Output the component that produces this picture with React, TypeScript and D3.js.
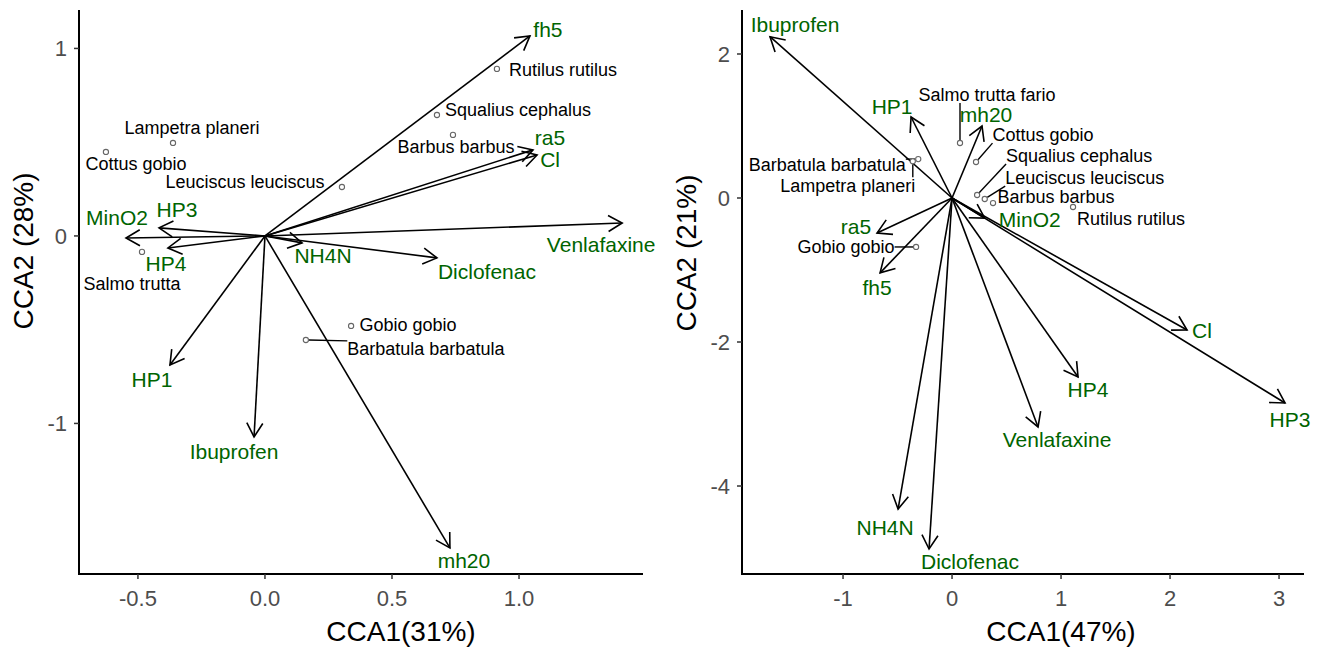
import React from "react";
import * as d3 from "d3";

// ---------- Left CCA: environmental vectors ----------
const leftVars = ["fh5", "ra5", "Cl", "Venlafaxine", "Diclofenac", "NH4N", "mh20", "Ibuprofen", "HP1", "HP4", "HP3", "MinO2"];
const leftVarCCA1 = [1.043, 1.055, 1.071, 1.406, 0.677, 0.146, 0.728, -0.043, -0.374, -0.382, -0.417, -0.547];
const leftVarCCA2 = [1.067, 0.459, 0.432, 0.069, -0.117, -0.037, -1.664, -1.072, -0.688, -0.064, 0.043, -0.011];

// ---------- Left CCA: species scores ----------
const leftSpecies = ["Rutilus rutilus", "Squalius cephalus", "Barbus barbus", "Leuciscus leuciscus", "Lampetra planeri", "Cottus gobio", "Salmo trutta", "Gobio gobio", "Barbatula barbatula"];
const leftSpCCA1 = [0.913, 0.677, 0.740, 0.303, -0.362, -0.626, -0.484, 0.339, 0.161];
const leftSpCCA2 = [0.891, 0.645, 0.539, 0.261, 0.496, 0.448, -0.085, -0.480, -0.555];

const leftXTicks = [-0.5, 0, 0.5, 1.0];
const leftYTicks = [-1, 0, 1];

// ---------- Right CCA: environmental vectors ----------
const rightVars = ["Ibuprofen", "HP1", "mh20", "ra5", "fh5", "MinO2", "Cl", "HP3", "HP4", "Venlafaxine", "NH4N", "Diclofenac"];
const rightVarCCA1 = [-1.67, -0.376, 0.275, -0.688, -0.66, 0.30, 2.156, 3.055, 1.156, 0.789, -0.495, -0.211];
const rightVarCCA2 = [2.24, 1.125, 1.0, -0.486, -1.04, -0.28, -1.833, -2.847, -2.486, -3.18, -4.32, -4.875];

// ---------- Right CCA: species scores ----------
const rightSpecies = ["Salmo trutta fario", "Cottus gobio", "Squalius cephalus", "Leuciscus leuciscus", "Barbus barbus", "Rutilus rutilus", "Barbatula barbatula", "Lampetra planeri", "Gobio gobio"];
const rightSpCCA1 = [0.073, 0.22, 0.23, 0.30, 0.376, 1.11, -0.31, -0.36, -0.33];
const rightSpCCA2 = [0.764, 0.5, 0.042, -0.014, -0.07, -0.125, 0.54, 0.51, -0.68];

const rightXTicks = [-1, 0, 1, 2, 3];
const rightYTicks = [-4, -2, 0, 2];

// ---------- Label placement (pixel nudges from each mark) ----------
const leftVarNudge: Record<string, [number, number]> = {
  fh5: [18, -6], ra5: [17, -12], Cl: [13, 5], Venlafaxine: [-21, 22], Diclofenac: [50, 14],
  NH4N: [21, 13], mh20: [14, 13], Ibuprofen: [-20, 15], HP1: [-18, 15], HP4: [-2, 16],
  HP3: [18, -18], MinO2: [-9, -20],
};
const leftSpNudge: Record<string, [number, number]> = {
  "Rutilus rutilus": [66, 1], "Squalius cephalus": [81, -5], "Barbus barbus": [3, 12],
  "Leuciscus leuciscus": [-97, -5], "Lampetra planeri": [19, -15], "Cottus gobio": [30, 12],
  "Salmo trutta": [-10, 32], "Gobio gobio": [57, -1], "Barbatula barbatula": [120, 9],
};
const leftSegments = new Set(["Barbatula barbatula"]);

const rightVarNudge: Record<string, [number, number]> = {
  Ibuprofen: [25, -12], HP1: [-19, -10], mh20: [4, -11], ra5: [-21, -6], fh5: [-3, 15],
  MinO2: [45, 1], Cl: [15, 1], HP3: [5, 17], HP4: [10, 13], Venlafaxine: [19, 13],
  NH4N: [-13, 19], Diclofenac: [41, 13],
};
const rightSpNudge: Record<string, [number, number]> = {
  "Salmo trutta fario": [27, -48], "Cottus gobio": [67, -27], "Squalius cephalus": [102, -39],
  "Leuciscus leuciscus": [100, -21], "Barbus barbus": [63, -6], "Rutilus rutilus": [58, 12],
  "Barbatula barbatula": [-91, 6], "Lampetra planeri": [-65, 24], "Gobio gobio": [-70, 0],
};
const rightSegments = new Set(["Salmo trutta fario", "Cottus gobio", "Squalius cephalus", "Leuciscus leuciscus", "Barbatula barbatula", "Lampetra planeri", "Gobio gobio"]);

const FONT = '"Liberation Sans", Arial, Helvetica, sans-serif';
const GREEN = "#006400";
const VAR_SIZE = 21;
const SP_SIZE = 18;

let measureCtx: CanvasRenderingContext2D | null = null;
function textWidth(s: string, size: number) {
  if (!measureCtx) measureCtx = document.createElement("canvas").getContext("2d");
  if (!measureCtx) return s.length * size * 0.5;
  measureCtx.font = `${size}px ${FONT}`;
  return measureCtx.measureText(s).width;
}

type PanelProps = {
  xDomain: [number, number]; xRange: [number, number];
  yDomain: [number, number]; yRange: [number, number];
  xTicks: number[]; yTicks: number[]; xFmt: (v: number) => string;
  vars: string[]; vx: number[]; vy: number[];
  sp: string[]; sx: number[]; sy: number[];
  varNudge: Record<string, [number, number]>; spNudge: Record<string, [number, number]>;
  segs: Set<string>;
  xTitle: string; xTitlePos: [number, number];
  yTitle: string; yTitlePos: [number, number];
};

function Panel(p: PanelProps) {
  const x = d3.scaleLinear().domain(p.xDomain).range(p.xRange);
  const y = d3.scaleLinear().domain(p.yDomain).range(p.yRange);
  const x0 = x(0), y0 = y(0);
  const left = p.xRange[0], right = p.xRange[1];
  const bottom = p.yRange[0], top = p.yRange[1];
  const barb = 16, ang = Math.PI / 6;

  return (
    <g>
      {/* environmental arrows */}
      {p.vars.map((v, i) => {
        const tx = x(p.vx[i]), ty = y(p.vy[i]);
        const a = Math.atan2(ty - y0, tx - x0);
        const b1 = [tx - barb * Math.cos(a - ang), ty - barb * Math.sin(a - ang)];
        const b2 = [tx - barb * Math.cos(a + ang), ty - barb * Math.sin(a + ang)];
        return (
          <g key={"a" + v} stroke="#000" strokeWidth={1.6} fill="none">
            <line x1={x0} y1={y0} x2={tx} y2={ty} />
            <polyline points={`${b1[0]},${b1[1]} ${tx},${ty} ${b2[0]},${b2[1]}`} />
          </g>
        );
      })}
      {/* species points, segments and labels */}
      {p.sp.map((s, i) => {
        const px = x(p.sx[i]), py = y(p.sy[i]);
        const [dx, dy] = p.spNudge[s];
        const cx = px + dx, cy = py + dy;
        const w = textWidth(s, SP_SIZE);
        const h = SP_SIZE * 0.9;
        let seg = null;
        if (p.segs.has(s)) {
          const ex = Math.max(cx - w / 2, Math.min(px, cx + w / 2));
          const ey = Math.max(cy - h / 2, Math.min(py, cy + h / 2));
          const len = Math.hypot(px - ex, py - ey);
          const k = len > 0 ? (len - 3) / len : 0;
          seg = <line x1={ex} y1={ey} x2={ex + (px - ex) * k} y2={ey + (py - ey) * k} stroke="#000" strokeWidth={1.4} />;
        }
        return (
          <g key={"s" + s}>
            {seg}
            <circle cx={px} cy={py} r={2.6} fill="#fff" stroke="#666" strokeWidth={1.1} />
            <text x={cx} y={cy} dy="0.35em" textAnchor="middle" fontFamily={FONT} fontSize={SP_SIZE} fill="#000">{s}</text>
          </g>
        );
      })}
      {/* vector labels */}
      {p.vars.map((v, i) => {
        const [dx, dy] = p.varNudge[v];
        return (
          <text key={"l" + v} x={x(p.vx[i]) + dx} y={y(p.vy[i]) + dy} dy="0.35em" textAnchor="middle"
            fontFamily={FONT} fontSize={VAR_SIZE} fill={GREEN}>{v}</text>
        );
      })}
      {/* axes */}
      <line x1={left} y1={bottom} x2={right} y2={bottom} stroke="#000" strokeWidth={2} />
      <line x1={left} y1={bottom + 1} x2={left} y2={top} stroke="#000" strokeWidth={2} />
      {p.xTicks.map((t) => (
        <g key={"xt" + t}>
          <line x1={x(t)} x2={x(t)} y1={bottom} y2={bottom + 5} stroke="#333" strokeWidth={1.5} />
          <text x={x(t)} y={bottom + 32} textAnchor="middle" fontFamily={FONT} fontSize={22} fill="#4d4d4d">{p.xFmt(t)}</text>
        </g>
      ))}
      {p.yTicks.map((t) => (
        <g key={"yt" + t}>
          <line x1={left - 5} x2={left} y1={y(t)} y2={y(t)} stroke="#333" strokeWidth={1.5} />
          <text x={left - 12} y={y(t)} dy="0.35em" textAnchor="end" fontFamily={FONT} fontSize={22} fill="#4d4d4d">{String(t)}</text>
        </g>
      ))}
      <text x={p.xTitlePos[0]} y={p.xTitlePos[1]} dy="0.35em" textAnchor="middle" fontFamily={FONT} fontSize={28} fill="#000">{p.xTitle}</text>
      <text transform={`translate(${p.yTitlePos[0]},${p.yTitlePos[1]}) rotate(-90)`} dy="0.35em" textAnchor="middle"
        fontFamily={FONT} fontSize={28} fill="#000">{p.yTitle}</text>
    </g>
  );
}

export default function App() {
  return (
    <svg width={1323} height={648} style={{ position: "absolute", left: 0, top: 0, background: "#fff" }}>
      <rect width={1323} height={648} fill="#fff" />
      <Panel
        xDomain={[-0.732, 1.488]} xRange={[79, 643]}
        yDomain={[-1.803, 1.205]} yRange={[574, 10]}
        xTicks={leftXTicks} yTicks={leftYTicks} xFmt={(v) => v.toFixed(1)}
        vars={leftVars} vx={leftVarCCA1} vy={leftVarCCA2}
        sp={leftSpecies} sx={leftSpCCA1} sy={leftSpCCA2}
        varNudge={leftVarNudge} spNudge={leftSpNudge} segs={leftSegments}
        xTitle="CCA1(31%)" xTitlePos={[401, 631]}
        yTitle="CCA2 (28%)" yTitlePos={[23, 251]}
      />
      <Panel
        xDomain={[-1.927, 3.229]} xRange={[742, 1304]}
        yDomain={[-5.222, 2.611]} yRange={[574, 10]}
        xTicks={rightXTicks} yTicks={rightYTicks} xFmt={(v) => String(v)}
        vars={rightVars} vx={rightVarCCA1} vy={rightVarCCA2}
        sp={rightSpecies} sx={rightSpCCA1} sy={rightSpCCA2}
        varNudge={rightVarNudge} spNudge={rightSpNudge} segs={rightSegments}
        xTitle="CCA1(47%)" xTitlePos={[1061, 631]}
        yTitle="CCA2 (21%)" yTitlePos={[686, 253]}
      />
    </svg>
  );
}
